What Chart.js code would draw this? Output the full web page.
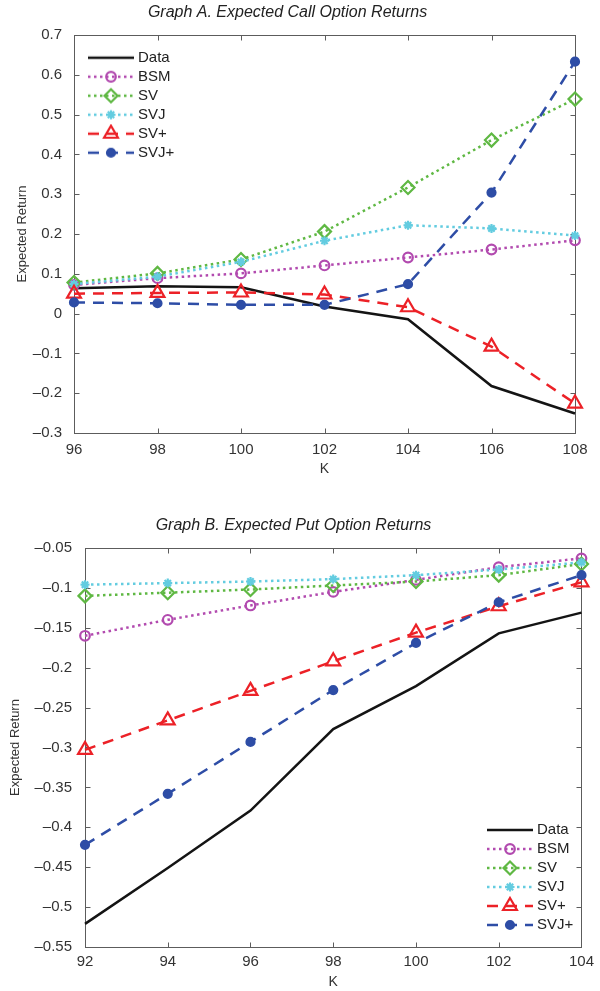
<!DOCTYPE html>
<html>
<head>
<meta charset="utf-8">
<script src="https://cdn.jsdelivr.net/npm/chart.js@4.4.1/dist/chart.umd.min.js"></script>
<style>
  body { margin: 0; background: #fff; }
  .wrap { position: absolute; left: 0; width: 600px; }
  #wrapA { top: 0; height: 490px; }
  #wrapB { top: 490px; height: 501px; }
</style>
</head>
<body>
<div class="wrap" id="wrapA"><canvas id="chartA" width="600" height="490"></canvas></div>
<div class="wrap" id="wrapB"><canvas id="chartB" width="600" height="501"></canvas></div>
<script>
const seriesNames = ['Data', 'BSM', 'SV', 'SVJ', 'SV+', 'SVJ+'];

// Graph A: calls
const strikesCall = ['96', '98', '100', '102', '104', '106', '108'];
const yTicksCall = [-0.3, -0.2, -0.1, 0, 0.1, 0.2, 0.3, 0.4, 0.5, 0.6, 0.7];
const callData = [0.064, 0.069, 0.066, 0.018, -0.014, -0.182, -0.251];
const callBSM = [0.072, 0.089, 0.101, 0.121, 0.141, 0.161, 0.184];
const callSV = [0.078, 0.101, 0.136, 0.206, 0.317, 0.436, 0.539];
const callSVJ = [0.074, 0.093, 0.130, 0.183, 0.222, 0.214, 0.196];
const callSVplus = [0.050, 0.052, 0.053, 0.048, 0.016, -0.083, -0.226];
const callSVJplus = [0.028, 0.026, 0.022, 0.022, 0.074, 0.304, 0.633];

// Graph B: puts
const strikesPut = ['92', '94', '96', '98', '100', '102', '104'];
const yTicksPut = [-0.55, -0.5, -0.45, -0.4, -0.35, -0.3, -0.25, -0.2, -0.15, -0.1, -0.05];
const putData = [-0.521, -0.451, -0.379, -0.277, -0.223, -0.157, -0.131];
const putBSM = [-0.160, -0.140, -0.122, -0.105, -0.090, -0.074, -0.063];
const putSV = [-0.110, -0.106, -0.102, -0.097, -0.092, -0.084, -0.070];
const putSVJ = [-0.096, -0.094, -0.092, -0.089, -0.084, -0.077, -0.068];
const putSVplus = [-0.303, -0.266, -0.229, -0.192, -0.156, -0.123, -0.093];
const putSVJplus = [-0.422, -0.358, -0.293, -0.228, -0.169, -0.118, -0.084];

const FONT = '"Liberation Sans", Arial, Helvetica, sans-serif';
const dotted = [2.5, 3.5];
const dashed = [11, 8];

const styles = [
  { color: '#141414', dash: [], marker: null },
  { color: '#B24AAF', dash: dotted, marker: 'circle', r: 4.8, fill: false },
  { color: '#5FB843', dash: dotted, marker: 'rectRot', r: 6.5, fill: false },
  { color: '#63CCE0', dash: dotted, marker: 'star', r: 4.5, fill: false },
  { color: '#EC2127', dash: dashed, marker: 'triangle', r: 8, fill: false },
  { color: '#2E4DA6', dash: dashed, marker: 'circle', r: 4, fill: true },
];

function fmt(v) {
  return String(Number(v.toFixed(2))).replace('-', '\u2013');
}

function drawMarker(g, s, x, y) {
  g.strokeStyle = s.color;
  g.fillStyle = s.color;
  g.lineWidth = 2.2;
  g.beginPath();
  if (s.marker === 'circle') {
    g.arc(x, y, s.r, 0, Math.PI * 2);
  } else if (s.marker === 'rectRot') {
    g.moveTo(x - s.r, y); g.lineTo(x, y - s.r); g.lineTo(x + s.r, y); g.lineTo(x, y + s.r);
    g.closePath();
  } else if (s.marker === 'triangle') {
    let a = 0;
    g.moveTo(x + Math.sin(a) * s.r, y - Math.cos(a) * s.r);
    a += 2 * Math.PI / 3;
    g.lineTo(x + Math.sin(a) * s.r, y - Math.cos(a) * s.r);
    a += 2 * Math.PI / 3;
    g.lineTo(x + Math.sin(a) * s.r, y - Math.cos(a) * s.r);
    g.closePath();
  } else if (s.marker === 'star') {
    const d = s.r * Math.SQRT1_2;
    g.moveTo(x - s.r, y); g.lineTo(x + s.r, y);
    g.moveTo(x, y - s.r); g.lineTo(x, y + s.r);
    g.moveTo(x - d, y - d); g.lineTo(x + d, y + d);
    g.moveTo(x - d, y + d); g.lineTo(x + d, y - d);
  }
  if (s.fill) g.fill();
  g.stroke();
}

// little line + marker sample for each legend entry
const icons = styles.map(s => {
  const c = document.createElement('canvas');
  c.width = 46;
  c.height = 20;
  const g = c.getContext('2d');
  g.strokeStyle = s.color;
  g.lineWidth = 2.5;
  g.setLineDash(s.dash);
  g.beginPath();
  g.moveTo(0, 10);
  g.lineTo(46, 10);
  g.stroke();
  g.setLineDash([]);
  if (s.marker) drawMarker(g, s, 23, 10);
  return c;
});

function makeDatasets(series) {
  return series.map((values, i) => {
    const s = styles[i];
    return {
      label: seriesNames[i],
      data: values,
      order: series.length - i,
      borderColor: s.color,
      backgroundColor: s.color,
      borderWidth: 2.5,
      borderDash: s.dash,
      pointStyle: s.marker || 'circle',
      pointRadius: s.marker ? s.r : 0,
      pointBorderWidth: 2.2,
      pointBorderColor: s.color,
      pointBackgroundColor: s.fill ? s.color : 'rgba(255,255,255,0)',
      tension: 0,
      clip: false,
    };
  });
}

// matlab-like box with inward ticks on all sides
const frame = {
  id: 'frame',
  beforeDatasetsDraw(chart) {
    const { ctx, chartArea: a } = chart;
    const x = chart.scales.x;
    const y = chart.scales.y;
    const L = Math.round(a.left) + 0.5;
    const R = Math.round(a.right) + 0.5;
    const T = Math.round(a.top) + 0.5;
    const B = Math.round(a.bottom) + 0.5;
    ctx.save();
    ctx.strokeStyle = '#5c5c5c';
    ctx.lineWidth = 1;
    ctx.beginPath();
    x.ticks.forEach((t, i) => {
      const px = Math.round(x.getPixelForTick(i)) + 0.5;
      ctx.moveTo(px, B); ctx.lineTo(px, B - 5);
      ctx.moveTo(px, T); ctx.lineTo(px, T + 5);
    });
    y.ticks.forEach((t, i) => {
      const py = Math.round(y.getPixelForTick(i)) + 0.5;
      ctx.moveTo(L, py); ctx.lineTo(L + 5, py);
      ctx.moveTo(R, py); ctx.lineTo(R - 5, py);
    });
    ctx.stroke();
    ctx.strokeRect(L, T, R - L, B - T);
    ctx.restore();
  },
};

function placeLegend(left, top) {
  return {
    id: 'placeLegend',
    afterLayout(chart) {
      const lg = chart.legend;
      lg.left = left;
      lg.top = top;
      lg.width = 170;
      lg.height = 130;
      lg.right = left + 170;
      lg.bottom = top + 130;
    },
  };
}

function buildChart(canvas, cfg) {
  return new Chart(canvas, {
    type: 'line',
    data: {
      labels: cfg.labels,
      datasets: makeDatasets(cfg.series),
    },
    options: {
      responsive: false,
      animation: false,
      events: [],
      layout: { padding: { left: 0, right: cfg.padRight, top: 0, bottom: 0 } },
      scales: {
        x: {
          type: 'category',
          offset: false,
          grid: { display: false, drawTicks: false },
          border: { display: false },
          ticks: {
            autoSkip: false,
            maxRotation: 0,
            padding: cfg.xTickPad,
            color: '#333',
            font: { family: FONT, size: 15 },
          },
          title: {
            display: true,
            text: 'K',
            color: '#333',
            font: { family: FONT, size: 14 },
            padding: { top: 0, bottom: cfg.kPad },
          },
          afterFit(scale) { scale.height = cfg.xHeight; },
        },
        y: {
          type: 'linear',
          min: cfg.yTicks[0],
          max: cfg.yTicks[cfg.yTicks.length - 1],
          grid: { display: false, drawTicks: false },
          border: { display: false },
          afterBuildTicks(scale) { scale.ticks = cfg.yTicks.map(v => ({ value: v })); },
          ticks: {
            padding: cfg.yTickPad,
            color: '#333',
            font: { family: FONT, size: 15 },
            callback: v => fmt(v),
          },
          title: {
            display: true,
            text: 'Expected Return',
            color: '#333',
            font: { family: FONT, size: 13 },
            padding: { top: cfg.yTitlePad, bottom: 0 },
          },
          afterFit(scale) { scale.width = cfg.yWidth; },
        },
      },
      plugins: {
        title: {
          display: true,
          text: cfg.title,
          color: '#222',
          font: { family: FONT, size: 16, style: 'italic', weight: 'normal' },
          padding: { top: cfg.titleTop, bottom: cfg.titleBottom },
        },
        legend: {
          position: 'chartArea',
          align: 'start',
          labels: {
            usePointStyle: true,
            pointStyleWidth: 39,
            padding: 4,
            color: '#222',
            font: { family: FONT, size: 15 },
            generateLabels(chart) {
              const items = Chart.defaults.plugins.legend.labels.generateLabels(chart);
              items.sort((a, b) => a.datasetIndex - b.datasetIndex);
              items.forEach(it => { it.pointStyle = icons[it.datasetIndex]; });
              return items;
            },
          },
        },
        tooltip: { enabled: false },
      },
    },
    plugins: [frame, placeLegend(cfg.legendLeft, cfg.legendTop)],
  });
}

buildChart(document.getElementById('chartA'), {
  title: 'Graph A. Expected Call Option Returns',
  labels: strikesCall,
  yTicks: yTicksCall,
  series: [callData, callBSM, callSV, callSVJ, callSVplus, callSVJplus],
  padRight: 25,
  yWidth: 74,
  xHeight: 57,
  titleTop: 3.4,
  titleBottom: 12.4,
  xTickPad: 8,
  yTickPad: 12,
  kPad: 12.6,
  yTitlePad: 14.2,
  legendLeft: 87.5,
  legendTop: 46.2,
});

buildChart(document.getElementById('chartB'), {
  title: 'Graph B. Expected Put Option Returns',
  labels: strikesPut,
  yTicks: yTicksPut,
  series: [putData, putBSM, putSV, putSVJ, putSVplus, putSVJplus],
  padRight: 13,
  yWidth: 85,
  xHeight: 44,
  titleTop: 26.4,
  titleBottom: 12.4,
  xTickPad: 6,
  yTickPad: 13,
  kPad: 0,
  yTitlePad: 7.2,
  legendLeft: 486.5,
  legendTop: 328.5,
});
</script>
</body>
</html>
